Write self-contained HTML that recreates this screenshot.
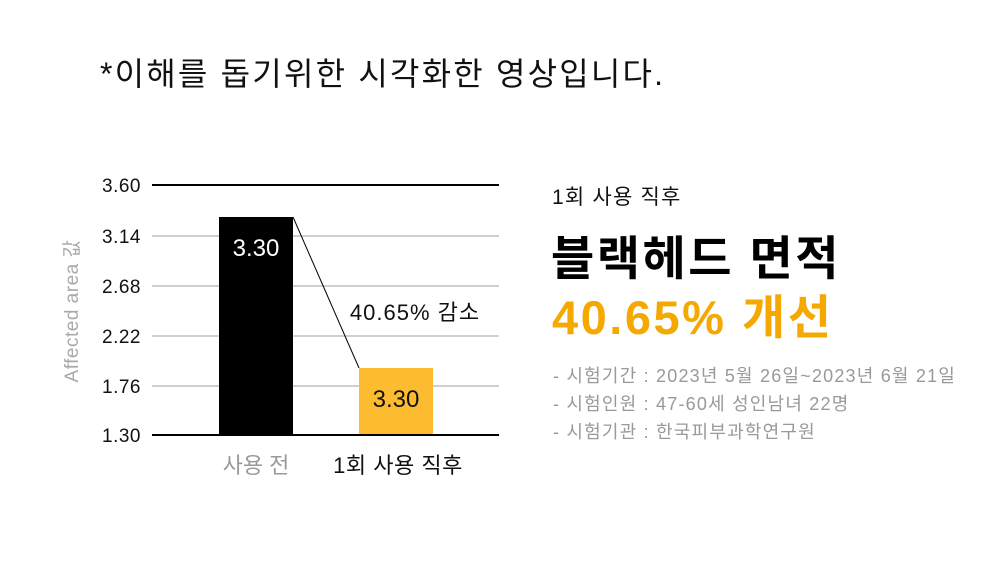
<!DOCTYPE html>
<html><head><meta charset="utf-8"><style>
html,body{margin:0;padding:0;background:#fff;}
body{width:1000px;height:574px;position:relative;overflow:hidden;font-family:"Liberation Sans","Noto Sans CJK KR",sans-serif;}
.a{position:absolute;white-space:nowrap;}
</style></head><body>
<div class="a" style="left:100px;top:49px;font-size:32px;letter-spacing:2.2px;color:#111;">*이해를 돕기위한 시각화한 영상입니다.</div>
<svg class="a" style="left:0;top:0" width="1000" height="574">
<g stroke="#d0d0d0" stroke-width="2">
<line x1="152" y1="236" x2="499" y2="236"/><line x1="152" y1="286" x2="499" y2="286"/>
<line x1="152" y1="336" x2="499" y2="336"/><line x1="152" y1="386" x2="499" y2="386"/>
</g>
<line x1="152" y1="185" x2="499" y2="185" stroke="#000" stroke-width="2"/>
<rect x="219" y="217" width="74" height="218" fill="#000"/>
<rect x="359" y="368" width="74" height="67" fill="#fdbb30"/>
<line x1="152" y1="435" x2="499" y2="435" stroke="#000" stroke-width="2"/>
<line x1="293" y1="217" x2="359" y2="368" stroke="#000" stroke-width="1"/>
<g font-family="Liberation Sans,Noto Sans CJK KR,sans-serif" font-size="19" letter-spacing="0.5" fill="#111" text-anchor="end">
<text x="141" y="192">3.60</text><text x="141" y="243">3.14</text><text x="141" y="293">2.68</text>
<text x="141" y="343">2.22</text><text x="141" y="393">1.76</text><text x="141" y="442">1.30</text>
</g>
<text x="256" y="256" font-size="24" fill="#fff" text-anchor="middle" font-family="Liberation Sans,Noto Sans CJK KR,sans-serif">3.30</text>
<text x="396" y="407" font-size="24" fill="#111" text-anchor="middle" font-family="Liberation Sans,Noto Sans CJK KR,sans-serif">3.30</text>
<text x="415" y="320" font-size="22" letter-spacing="1" fill="#111" text-anchor="middle" font-family="Liberation Sans,Noto Sans CJK KR,sans-serif">40.65% 감소</text>
<text x="256" y="473" font-size="22" fill="#999" text-anchor="middle" font-family="Liberation Sans,Noto Sans CJK KR,sans-serif">사용 전</text>
<text x="398" y="473" font-size="22" letter-spacing="0.5" fill="#111" text-anchor="middle" font-family="Liberation Sans,Noto Sans CJK KR,sans-serif">1회 사용 직후</text>
<text transform="translate(78,311) rotate(-90)" font-size="19" letter-spacing="0.5" fill="#aaa" text-anchor="middle" font-family="Liberation Sans,Noto Sans CJK KR,sans-serif">Affected area 값</text>
</svg>
<div class="a" style="left:552px;top:181px;font-size:21px;letter-spacing:1.2px;color:#111;">1회 사용 직후</div>
<div class="a" style="left:551px;top:220px;font-size:47px;letter-spacing:2.5px;font-weight:bold;color:#000;">블랙헤드 면적</div>
<div class="a" style="left:552px;top:279px;font-size:47px;letter-spacing:2.5px;font-weight:bold;color:#f5a800;">40.65% 개선</div>
<div class="a" style="left:553px;top:362px;font-size:18px;letter-spacing:1.2px;line-height:28px;color:#999;">- 시험기간 : 2023년 5월 26일~2023년 6월 21일<br>- 시험인원 : 47-60세 성인남녀 22명<br>- 시험기관 : 한국피부과학연구원</div>
</body></html>
